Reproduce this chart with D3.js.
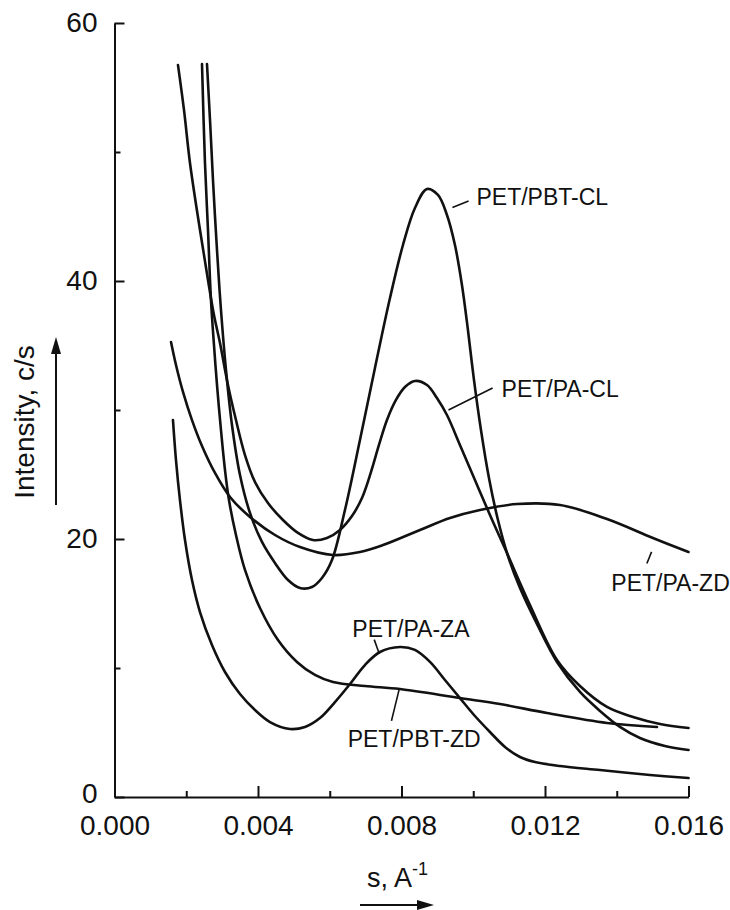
<!DOCTYPE html>
<html><head><meta charset="utf-8">
<script src="https://cdn.jsdelivr.net/npm/d3@7"></script>
<style>
html,body{margin:0;padding:0;background:#fff;}
svg{display:block;}
text{font-family:"Liberation Sans",Arial,Helvetica,sans-serif;fill:#111;}
</style></head>
<body>
<svg id="chart" width="730" height="910"></svg>
<script>
// ---- data (s in 1/A, intensity in c/s) ----
const xTicks = [0, 0.004, 0.008, 0.012, 0.016];
const xMinor = [0.002, 0.006, 0.010, 0.014];
const yTicks = [0, 20, 40, 60];
const yMinor = [10, 30, 50];

const sPA_CL = [0.001770,0.001937,0.002104,0.002383,0.002606,0.002773,0.002940,0.003163,0.003386,0.003637,0.003916,0.004278,0.004696,0.005114,0.005532,0.005923,0.006285,0.006619,0.006898,0.007149,0.007372,0.007595,0.007846,0.008097,0.008375,0.008710,0.008988,0.009267,0.009629,0.010047,0.010466,0.010940,0.011581,0.012334,0.012975,0.013728,0.014453,0.015205,0.016];
const iPA_CL = [56.74,53.26,49.15,43.95,40.08,37.36,35.19,31.94,29.22,26.51,24.42,22.79,21.47,20.47,19.92,20.08,20.70,21.78,23.18,25.19,27.29,29.22,30.78,31.78,32.25,31.94,30.93,29.61,27.29,24.57,21.86,18.91,14.88,10.62,8.60,6.98,6.20,5.66,5.35];

const sPBT_CL = [0.002578,0.002662,0.002745,0.002857,0.002968,0.003108,0.003275,0.003498,0.003776,0.004111,0.004473,0.004836,0.005170,0.005504,0.005783,0.006062,0.006424,0.006842,0.007260,0.007679,0.008041,0.008375,0.008710,0.009016,0.009267,0.009490,0.009685,0.009852,0.010020,0.010215,0.010438,0.010689,0.010968,0.011303,0.011803,0.012334,0.012975,0.013533,0.014089,0.014646,0.015343,0.016];
const iPBT_CL = [56.82,52.48,47.83,42.40,37.75,33.10,28.84,24.96,22.02,19.77,18.14,16.82,16.20,16.28,16.98,18.37,22.25,27.67,33.26,38.68,42.79,45.66,47.13,46.67,45.12,42.79,39.69,36.20,32.33,28.45,24.73,21.47,18.68,16.20,13.26,10.47,8.14,6.67,5.43,4.57,3.95,3.64];

const sPBT_ZD = [0.002439,0.002522,0.002606,0.002689,0.002773,0.002857,0.002968,0.003080,0.003191,0.003386,0.003637,0.004055,0.004557,0.005086,0.005588,0.006090,0.006981,0.007958,0.009629,0.010744,0.012055,0.013728,0.015122];
const iPBT_ZD = [56.82,49.15,43.95,38.53,35.04,31.94,28.45,25.35,23.02,20.31,17.60,14.65,12.17,10.47,9.46,8.91,8.60,8.37,7.67,7.21,6.51,5.74,5.43];

const sPA_ZA = [0.001630,0.001714,0.001825,0.001965,0.002160,0.002383,0.002717,0.003080,0.003498,0.003916,0.004334,0.004891,0.005309,0.005727,0.006145,0.006564,0.006981,0.007400,0.007958,0.008375,0.008794,0.009211,0.009629,0.010047,0.010466,0.010885,0.011303,0.011721,0.012418,0.013533,0.014927,0.016];
const iPA_ZA = [29.22,26.12,23.02,19.92,16.82,14.34,11.78,9.69,7.98,6.74,5.81,5.27,5.43,6.12,7.36,8.76,10.23,11.24,11.63,11.40,10.47,9.07,7.67,6.28,5.04,3.88,3.10,2.71,2.40,2.09,1.71,1.47];

const sPA_ZD = [0.001575,0.001714,0.001909,0.002160,0.002439,0.002801,0.003219,0.003776,0.004473,0.005170,0.006090,0.006842,0.007483,0.008514,0.009351,0.010187,0.011218,0.012418,0.013728,0.015008,0.016];
const iPA_ZD = [35.27,33.49,31.40,29.22,27.21,25.12,23.26,21.71,20.31,19.38,18.76,18.99,19.53,20.70,21.63,22.25,22.71,22.64,21.55,20.08,18.99];

// labels (data position of text start) and leader lines
const labelText = ["PET/PBT-CL","PET/PA-CL","PET/PA-ZD","PET/PA-ZA","PET/PBT-ZD"];
const labelS = [0.01009,0.01079,0.01385,0.00663,0.00650];
const labelI = [46.5,31.6,16.6,13.0,4.5];
const leaderS0 = [0.00942,0.00931,0.01484,0.00724,0.00772];
const leaderI0 = [45.7,30.0,18.1,12.2,5.9];
const leaderS1 = [0.00987,0.01054,0.01497,0.00738,0.00794];
const leaderI1 = [46.2,31.7,19.0,11.1,8.4];

// ---- chart ----
const svg = d3.select("#chart");
const x = d3.scaleLinear().domain([0, 0.016]).range([114.5, 688.5]);
const y = d3.scaleLinear().domain([0, 60]).range([797, 23]);

const series = [
  [sPA_CL, iPA_CL],[sPBT_CL, iPBT_CL],[sPBT_ZD, iPBT_ZD],[sPA_ZA, iPA_ZA],[sPA_ZD, iPA_ZD]
].map(([s, v]) => s.map((d, i) => [d, v[i]]));

const line = d3.line().x(d => x(d[0])).y(d => y(d[1])).curve(d3.curveCatmullRom.alpha(0.5));

svg.append("g").selectAll("path").data(series).join("path")
  .attr("d", line).attr("fill", "none").attr("stroke", "#111")
  .attr("stroke-width", 2.6).attr("stroke-linecap", "round").attr("stroke-linejoin", "round");

// axes
const gx = svg.append("g").attr("transform", `translate(0,${y(0)})`)
  .call(d3.axisBottom(x).tickValues(xTicks).tickSizeInner(-11).tickSizeOuter(0).tickPadding(18)
    .tickFormat(d3.format(".3f")));
const gxm = svg.append("g").attr("transform", `translate(0,${y(0)})`)
  .call(d3.axisBottom(x).tickValues(xMinor).tickSizeInner(-6).tickSizeOuter(0).tickFormat(""));
const gy = svg.append("g").attr("transform", `translate(${x(0)},0)`)
  .call(d3.axisLeft(y).tickValues(yTicks).tickSizeInner(-10).tickSizeOuter(0).tickPadding(17));
const gym = svg.append("g").attr("transform", `translate(${x(0)},0)`)
  .call(d3.axisLeft(y).tickValues(yMinor).tickSizeInner(-6).tickSizeOuter(0).tickFormat(""));
gxm.select(".domain").remove();
gym.select(".domain").remove();
svg.selectAll(".domain, .tick line").attr("stroke", "#111").attr("stroke-width", 2);
gx.selectAll("text").attr("font-size", 28).attr("font-family", "Liberation Sans, Arial").attr("fill", "#111");
gy.selectAll("text").attr("font-size", 28).attr("font-family", "Liberation Sans, Arial").attr("fill", "#111");
gy.selectAll(".tick text").filter(d => d === 0).attr("dy", "0.2em");

// axis titles
svg.append("text").attr("transform", "translate(34,422) rotate(-90)")
  .attr("text-anchor", "middle").attr("font-size", 28).text("Intensity, c/s");
const xt = svg.append("text").attr("x", 367).attr("y", 887).attr("font-size", 27);
xt.append("tspan").text("s, A");
xt.append("tspan").attr("dy", -12).attr("font-size", 18).text("-1");

// arrows
svg.append("line").attr("x1", 56).attr("y1", 505).attr("x2", 56).attr("y2", 352)
  .attr("stroke", "#111").attr("stroke-width", 2);
svg.append("path").attr("d", "M56,337 L51,354 L61,354 Z").attr("fill", "#111");
svg.append("line").attr("x1", 360).attr("y1", 905).attr("x2", 420).attr("y2", 905)
  .attr("stroke", "#111").attr("stroke-width", 2);
svg.append("path").attr("d", "M434,905 L417,900 L417,910 Z").attr("fill", "#111");

// labels
svg.append("g").selectAll("text").data(labelText).join("text")
  .attr("x", (d, i) => x(labelS[i])).attr("y", (d, i) => y(labelI[i]))
  .attr("font-size", 23).attr("dominant-baseline", "central").text(d => d);
svg.append("g").selectAll("line").data(labelText).join("line")
  .attr("x1", (d, i) => x(leaderS0[i])).attr("y1", (d, i) => y(leaderI0[i]))
  .attr("x2", (d, i) => x(leaderS1[i])).attr("y2", (d, i) => y(leaderI1[i]))
  .attr("stroke", "#111").attr("stroke-width", 1.6);
</script>
</body></html>
